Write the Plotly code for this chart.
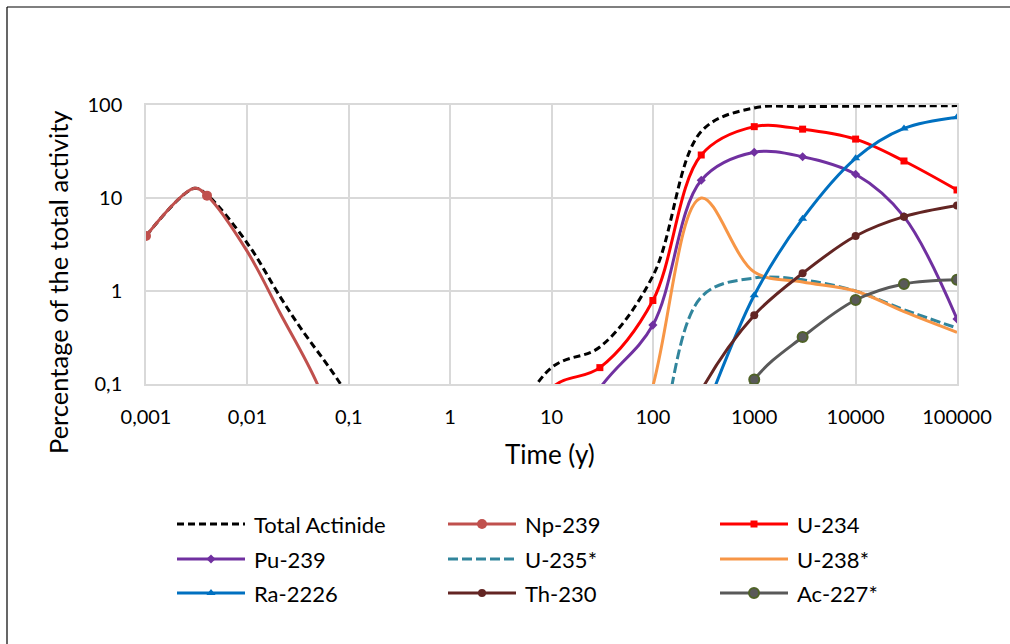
import plotly.graph_objects as go

# ---- data: time in years, percentage of the total activity ----
# Total actinide curve (no markers)
T_TOTAL = [0.001, 0.003, 0.004, 0.01, 0.021, 0.033, 0.083, 0.2, 1, 10, 30, 100, 300, 1000, 3000, 10000, 30000, 100000]
TOTAL = [3.9, 12.7, 10.8, 3.26, 0.87, 0.41, 0.1, 0.02, 0.005, 0.15, 0.25, 1.45, 52, 93, 96, 97, 98, 98.5]

# Np-239 curve; markers sit on the tabulated times only
T_NP239 = [0.001, 0.003, 0.004, 0.01, 0.021, 0.049, 0.1]
NP239 = [3.9, 12.7, 10.6, 2.65, 0.58, 0.1, 0.012]
NP239_MARKED = [0.001, 0.004]

T_U234 = [3, 10, 30, 100, 300, 1000, 3000, 10000, 30000, 100000]
U234 = [0.005, 0.09, 0.15, 0.79, 29, 58.5, 55, 43, 25, 12.2]

T_PU239 = [10, 30, 100, 300, 1000, 3000, 10000, 30000, 100000]
PU239 = [0.01, 0.09, 0.43, 15.5, 31, 27.8, 18, 6.3, 0.5]

T_U235 = [30, 100, 300, 1000, 3000, 10000, 30000, 100000]
U235 = [0.0005, 0.012, 0.86, 1.38, 1.32, 1.0, 0.63, 0.40]

T_U238 = [30, 100, 300, 1000, 3000, 10000, 30000, 100000]
U238 = [0.001, 0.095, 10.0, 1.6, 1.25, 1.0, 0.6, 0.36]

T_RA226 = [100, 300, 1000, 3000, 10000, 30000, 100000]
RA226 = [0.002, 0.04, 0.9, 6.0, 26.7, 56, 74]

T_TH230 = [100, 300, 1000, 3000, 10000, 30000, 100000]
TH230 = [0.005, 0.085, 0.55, 1.55, 3.9, 6.3, 8.3]

T_AC227 = [300, 1000, 3000, 10000, 30000, 100000]
AC227 = [0.01, 0.112, 0.32, 0.8, 1.19, 1.32]

X_TICKS = [0.001, 0.01, 0.1, 1, 10, 100, 1000, 10000, 100000]
X_TICK_TEXT = ["0,001", "0,01", "0,1", "1", "10", "100", "1000", "10000", "100000"]
Y_TICKS = [0.1, 1, 10, 100]
Y_TICK_TEXT = ["0,1", "1", "10", "100"]

X_TITLE = "Time (y)"
Y_TITLE = "Percentage of the total activity"

# ---- styling per series ----
FONT = "Lato, sans-serif"
W, H = 1010, 644
LW = 3

series = [
    dict(name="Total Actinide", t=T_TOTAL, v=TOTAL, color="#000000", dash="7px,4px", marker=None),
    dict(name="Np-239", t=T_NP239, v=NP239, marked=NP239_MARKED, color="#C0504D", dash="solid",
         marker=dict(symbol="circle", size=10, color="#C0504D")),
    dict(name="U-234", t=T_U234, v=U234, color="#FF0000", dash="solid",
         marker=dict(symbol="square", size=7, color="#FF0000")),
    dict(name="Pu-239", t=T_PU239, v=PU239, color="#7030A0", dash="solid",
         marker=dict(symbol="diamond", size=7, color="#7030A0")),
    dict(name="U-235*", t=T_U235, v=U235, color="#31859C", dash="10px,4px", marker=None),
    dict(name="U-238*", t=T_U238, v=U238, color="#F79646", dash="solid", marker=None),
    dict(name="Ra-2226", t=T_RA226, v=RA226, color="#0070C0", dash="solid",
         marker=dict(symbol="triangle-up", size=8, color="#0070C0")),
    dict(name="Th-230", t=T_TH230, v=TH230, color="#632523", dash="solid",
         marker=dict(symbol="circle", size=8, color="#632523")),
    dict(name="Ac-227*", t=T_AC227, v=AC227, color="#595959", dash="solid",
         marker=dict(symbol="circle", size=10, color="#595959",
                     line=dict(color="#4F6228", width=2))),
]

fig = go.Figure()

for s in series:
    fig.add_trace(go.Scatter(
        x=s["t"], y=s["v"], mode="lines", name=s["name"],
        line=dict(color=s["color"], width=LW, dash=s["dash"], shape="spline", smoothing=1),
        showlegend=False, xaxis="x", yaxis="y", hoverinfo="skip",
    ))
    if s["marker"]:
        marked = s.get("marked")
        pts = [(t, v) for t, v in zip(s["t"], s["v"]) if marked is None or t in marked]
        fig.add_trace(go.Scatter(
            x=[p[0] for p in pts], y=[p[1] for p in pts], mode="markers",
            marker=s["marker"], showlegend=False, xaxis="x", yaxis="y", hoverinfo="skip",
        ))

# ---- legend drawn on a pixel-space overlay axis (3 columns x 3 rows) ----
COL_X = [177, 448, 720]
ROW_Y = [524, 559, 593]
SAMPLE_LEN = 68
TEXT_GAP = 7
annotations = []
for i, s in enumerate(series):
    cx = COL_X[i % 3]
    ry = ROW_Y[i // 3]
    fig.add_trace(go.Scatter(
        x=[cx, cx + SAMPLE_LEN], y=[ry, ry], mode="lines",
        line=dict(color=s["color"], width=LW, dash=s["dash"]),
        showlegend=False, xaxis="x2", yaxis="y2", hoverinfo="skip",
    ))
    if s["marker"]:
        fig.add_trace(go.Scatter(
            x=[cx + SAMPLE_LEN / 2], y=[ry], mode="markers", marker=s["marker"],
            showlegend=False, xaxis="x2", yaxis="y2", hoverinfo="skip",
        ))
    annotations.append(dict(
        x=cx + SAMPLE_LEN + TEXT_GAP, y=ry, xref="x2", yref="y2",
        text=s["name"], showarrow=False, xanchor="left", yanchor="middle",
        font=dict(family=FONT, size=22, color="#000000"),
    ))

# axis titles
annotations.append(dict(
    x=550, y=454, xref="x2", yref="y2", text=X_TITLE, showarrow=False,
    xanchor="center", yanchor="middle", font=dict(family=FONT, size=26, color="#000000"),
))
annotations.append(dict(
    x=58, y=282, xref="x2", yref="y2", text=Y_TITLE, showarrow=False, textangle=-90,
    xanchor="center", yanchor="middle", font=dict(family=FONT, size=25.5, color="#000000"),
))

PLOT_L, PLOT_R, PLOT_T, PLOT_B = 146, 957, 105, 384
GRID = "#D9D9D9"

fig.update_layout(
    width=W, height=H,
    margin=dict(l=0, r=0, t=0, b=0, autoexpand=False),
    paper_bgcolor="white", plot_bgcolor="rgba(0,0,0,0)",
    font=dict(family=FONT, size=20, color="#000000"),
    showlegend=False,
    xaxis=dict(
        type="log", range=[-3, 5], domain=[PLOT_L / W, PLOT_R / W], anchor="y",
        tickvals=X_TICKS, ticktext=X_TICK_TEXT, ticks="", ticklabelstandoff=14,
        showgrid=True, gridcolor=GRID, gridwidth=1.5, automargin=False,
        showline=True, linecolor=GRID, linewidth=1.5, mirror=True, zeroline=False,
        tickfont=dict(family=FONT, size=20, color="#000000"),
    ),
    yaxis=dict(
        type="log", range=[-1, 2], domain=[1 - PLOT_B / H, 1 - PLOT_T / H], anchor="x",
        tickvals=Y_TICKS, ticktext=Y_TICK_TEXT, ticks="", ticklabelstandoff=18,
        showgrid=True, gridcolor=GRID, gridwidth=1.5, automargin=False,
        showline=True, linecolor=GRID, linewidth=1.5, mirror=True, zeroline=False,
        tickfont=dict(family=FONT, size=20, color="#000000"),
    ),
    xaxis2=dict(range=[0, W], domain=[0, 1], anchor="y2", visible=False,
                fixedrange=True, automargin=False),
    yaxis2=dict(range=[H, 0], domain=[0, 1], anchor="x2", visible=False,
                fixedrange=True, automargin=False),
    annotations=annotations,
    shapes=[
        dict(type="line", xref="x2", yref="y2", x0=7, y0=7, x1=W + 5, y1=7,
             line=dict(color="#000000", width=1.2)),
        dict(type="line", xref="x2", yref="y2", x0=7, y0=7, x1=7, y1=H + 5,
             line=dict(color="#000000", width=1.2)),
    ],
)

fig.write_html("out.html")
